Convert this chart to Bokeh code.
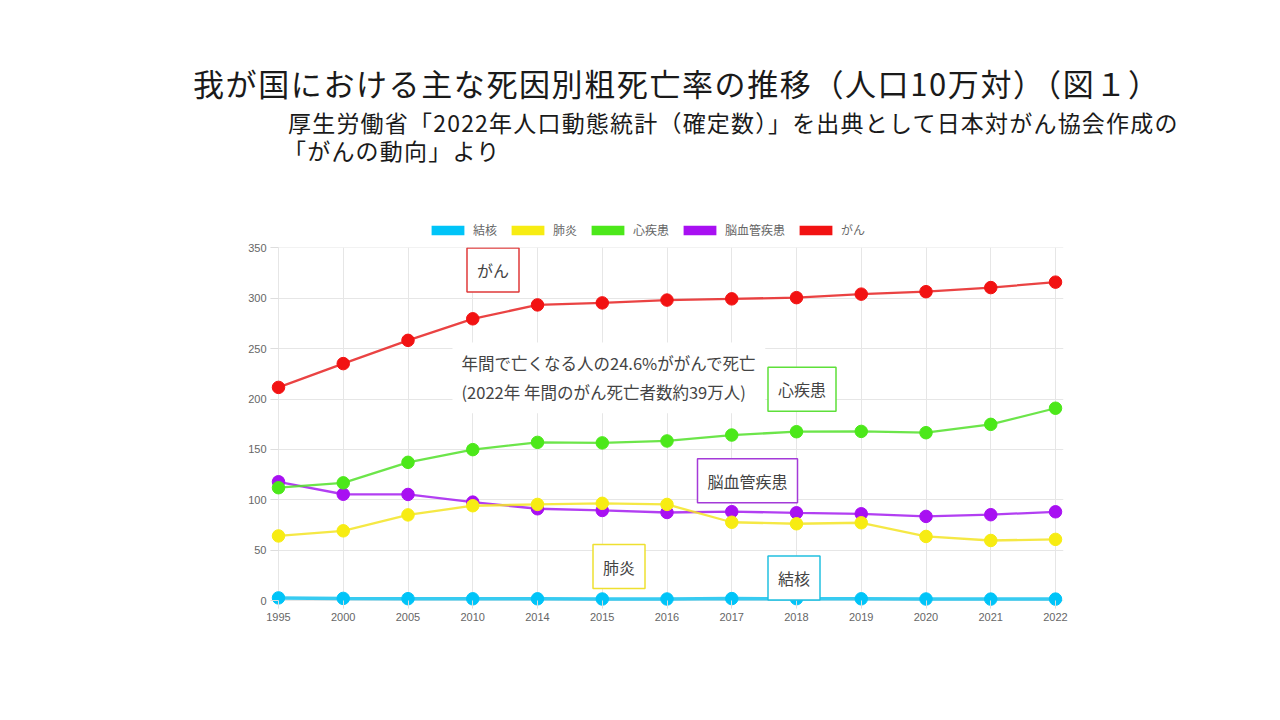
from bokeh.plotting import figure
from bokeh.models import Label, Legend, LegendItem, FixedTicker, Range1d, Div
from bokeh.layouts import column
from bokeh.embed import file_html
from bokeh.resources import INLINE

# ---- data ----
years = ["1995", "2000", "2005", "2010", "2014", "2015", "2016",
         "2017", "2018", "2019", "2020", "2021", "2022"]
tb = [2.6, 2.1, 1.8, 1.7, 1.7, 1.5, 1.5, 1.9, 1.8, 1.7, 1.5, 1.4, 1.4]
pneumonia = [64.1, 69.2, 85.0, 94.1, 95.4, 96.5, 95.4, 77.7, 76.2, 77.2, 63.6, 59.6, 60.7]
heart = [112.0, 116.8, 137.2, 149.8, 157.0, 156.5, 158.4, 164.3, 167.6, 167.9, 166.6, 174.9, 190.9]
cerebro = [117.9, 105.5, 105.3, 97.7, 91.1, 89.4, 87.4, 88.2, 87.1, 86.1, 83.5, 85.2, 88.1]
cancer = [211.6, 235.2, 258.3, 279.7, 293.5, 295.5, 298.3, 299.5, 300.7, 304.2, 306.6, 310.7, 316.1]
y_ticks = [0, 50, 100, 150, 200, 250, 300, 350]

names = ["結核", "肺炎", "心疾患", "脳血管疾患", "がん"]
series = [tb, pneumonia, heart, cerebro, cancer]
line_colors = ["#14c2ef", "#f3e424", "#52e12a", "#a51df0", "#e62222"]
fill_colors = ["#00c4f8", "#f7ec12", "#4ce81a", "#a810f2", "#f21212"]

title = "我が国における主な死因別粗死亡率の推移（人口10万対）（図１）"
sub1 = "厚生労働省「2022年人口動態統計（確定数）」を出典として日本対がん協会作成の"
sub2 = "「がんの動向」より"
note = "年間で亡くなる人の24.6%ががんで死亡\n(2022年 年間のがん死亡者数約39万人)"

FONT = "Noto Sans CJK JP"
TICKFONT = "Liberation Sans"

W, H = 1280, 720
HEAD_H = 216     # title block
LEG_H = 27       # legend strip
CHART_H = H - HEAD_H - LEG_H

# ---- title block ----
head_html = f"""
<div style="position:relative;width:{W}px;height:{HEAD_H}px;font-family:'{FONT}';color:#1a1a1a;">
<div style="position:absolute;left:193px;top:67px;font-size:31px;line-height:31px;letter-spacing:1.6px;white-space:nowrap;">{title}</div>
<div style="position:absolute;left:288px;top:111px;font-size:23px;line-height:23px;letter-spacing:1.2px;white-space:nowrap;">{sub1}</div>
<div style="position:absolute;left:283px;top:139px;font-size:23px;line-height:23px;letter-spacing:1.2px;white-space:nowrap;">{sub2}</div>
</div>"""
head = Div(text=head_html, width=W, height=HEAD_H, margin=0)

xs = list(range(len(years)))

# ---- legend strip (its frame is aligned with the chart frame by the column) ----
lf = figure(width=W, height=LEG_H, output_backend="svg", toolbar_location=None,
            x_axis_location=None, y_axis_location=None,
            min_border_left=270, min_border_right=217, min_border_top=0, min_border_bottom=0,
            margin=0)
lf.outline_line_color = None
lf.grid.visible = False
lf.background_fill_color = "white"
lf.border_fill_color = "white"
items = []
for i, n in enumerate(names):
    r = lf.block(x=xs, y=series[i], width=0, height=0, fill_color=fill_colors[i],
                 line_color=None)
    items.append(LegendItem(label=n, renderers=[r]))
legend = Legend(items=items, orientation="horizontal", location=(157, 5),
                glyph_width=41, glyph_height=12, label_standoff=5, spacing=10,
                padding=0, margin=0, border_line_color=None, background_fill_alpha=0,
                label_text_font=FONT, label_text_font_size="12px",
                label_text_color="#666666", label_height=12)
lf.add_layout(legend, "center")

# ---- chart ----
PXX = 64.75      # px per category step
PXY = 1.0086     # px per unit
x_pad = 8 / PXX
y_pad = 8 / PXY
FRAME_TOP = 247 - HEAD_H - LEG_H

p = figure(width=W, height=CHART_H, output_backend="svg", toolbar_location=None,
           x_range=Range1d(-x_pad, len(years) - 1 + x_pad),
           y_range=Range1d(-y_pad, 350 + 0.5 / PXY),
           min_border_left=270, min_border_right=217,
           min_border_top=FRAME_TOP, min_border_bottom=112, margin=0)
p.outline_line_color = None
p.background_fill_color = "white"
p.border_fill_color = "white"

p.xaxis.ticker = FixedTicker(ticks=xs)
p.xaxis.major_label_overrides = {i: y for i, y in enumerate(years)}
p.yaxis.ticker = FixedTicker(ticks=y_ticks)
for ax in (p.xaxis, p.yaxis):
    ax.axis_line_color = None
    ax.major_tick_in = 8
    ax.major_tick_out = 0
    ax.minor_tick_line_color = None
    ax.major_tick_line_color = "#dddddd"
    ax.major_label_text_font = TICKFONT
    ax.major_label_text_font_size = "11px"
    ax.major_label_text_color = "#666666"
    ax.major_label_standoff = 4
p.xgrid.ticker = FixedTicker(ticks=xs)
p.ygrid.ticker = FixedTicker(ticks=y_ticks)
p.xgrid.grid_line_color = "#e6e6e6"
p.ygrid.grid_line_color = "#e6e6e6"

for i in reversed(range(len(series))):
    lw = 3.5 if i == 0 else 2.3
    p.line(xs, series[i], line_color=line_colors[i], line_width=lw, line_alpha=0.85)
    p.scatter(xs, series[i], size=12.5, fill_color=fill_colors[i], line_color=fill_colors[i])


def dx(px):
    return (px - 278) / PXX


def dy(py):
    return (600 - py) / PXY


p.add_layout(Label(x=dx(452), y=dy(377), text=note, text_font=FONT,
                   text_font_size="16.5px", text_color="#444444",
                   text_line_height=1.2, text_baseline="middle", text_align="left",
                   background_fill_color="white", padding=9))

boxes = [("がん", 492.5, 269, "#e03a3a"),
         ("心疾患", 801.5, 388.5, "#5ee03a"),
         ("脳血管疾患", 747, 480, "#a43ad8"),
         ("肺炎", 618.5, 566, "#eee030"),
         ("結核", 793.5, 577.5, "#22c0e0")]
for t, cx, cy, c in boxes:
    p.add_layout(Label(x=dx(cx), y=dy(cy), text=t, text_font=FONT,
                       text_font_size="16px", text_color="#444444",
                       text_align="center", text_baseline="middle",
                       background_fill_color="white", border_line_color=c,
                       border_line_width=1.5, padding=10))

layout = column(head, lf, p, spacing=0, margin=0)
open("out.html", "w").write(file_html(layout, INLINE))
